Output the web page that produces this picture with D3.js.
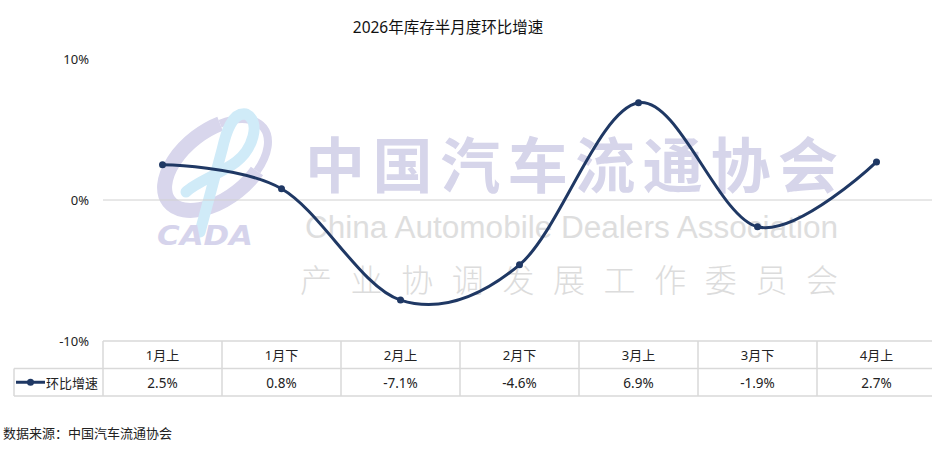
<!DOCTYPE html>
<html><head><meta charset="utf-8">
<script src="https://cdn.jsdelivr.net/npm/d3@7"></script>
<style>
body{margin:0;background:#fff;}
svg text{font-family:"Noto Sans","Noto Sans CJK SC",sans-serif;}
</style></head>
<body><svg id="c" width="932" height="449"></svg>
<script>
const title = "2026年库存半月度环比增速";
const categories = ["1月上","1月下","2月上","2月下","3月上","3月下","4月上"];
const seriesName = "环比增速";
const values = [2.5, 0.8, -7.1, -4.6, 6.9, -1.9, 2.7];
const yTicks = [10, 0, -10];
const source = "数据来源：中国汽车流通协会";

const svg = d3.select("#c");
const W = 932, H = 449;
const pLeft = 103, pRight = 936, pTop = 59, pBottom = 341;
const rowH = 27.5;

const x = d3.scaleBand().domain(categories).range([pLeft, pRight]);
const y = d3.scaleLinear().domain([-10, 10]).range([pBottom, pTop]);

// watermark (logo + association name)
const wm = svg.append("g").attr("class","watermark");
const lg = wm.append("g").attr("transform","translate(207,172) rotate(-38)");
lg.append("path").attr("d","M40,-30 A60,34 0 1 0 40,30")
  .attr("fill","none").attr("stroke","#d8d6ec").attr("stroke-width",15);
lg.append("path").attr("d","M40,30 A60,34 0 0 0 40,-30")
  .attr("fill","none").attr("stroke","#d8d6ec").attr("stroke-width",8);
wm.append("path")
  .attr("d","M246,114 C262,122 252,150 236,162 C220,174 196,182 186,192 M246,114 C232,112 226,132 222,150 L200,232")
  .attr("fill","none").attr("stroke","#d0ebf8").attr("stroke-width",11).attr("stroke-linecap","round");
wm.append("text").attr("x",157).attr("y",245).text("CADA")
  .attr("font-size",27).attr("font-weight","bold").attr("font-style","italic")
  .style("font-family","DejaVu Sans").attr("fill","#d6d4ec")
  .attr("textLength",96).attr("lengthAdjust","spacingAndGlyphs");
wm.append("text").attr("x",305).attr("y",188).text("中国汽车流通协会")
  .attr("font-size",60).attr("font-weight",700).style("font-family","Noto Sans CJK SC").attr("fill","#d6d5ea")
  .attr("textLength",533).attr("lengthAdjust","spacing");
wm.append("text").attr("x",305).attr("y",238).text("China Automobile Dealers Association")
  .attr("font-size",31).style("font-family","Liberation Sans Narrow, Liberation Sans").attr("fill","#dedede")
  .attr("textLength",533).attr("lengthAdjust","spacingAndGlyphs");
wm.append("text").attr("x",300).attr("y",292).text("产业协调发展工作委员会")
  .attr("font-size",32).attr("font-weight",300).style("font-family","Noto Sans CJK SC").attr("fill","#dcdcdc")
  .attr("textLength",538).attr("lengthAdjust","spacing");

// title
svg.append("text").attr("x",448).attr("y",33).attr("text-anchor","middle")
  .attr("font-size",15.5).attr("fill","#111").text(title);

// zero gridline
svg.append("line").attr("x1",pLeft).attr("x2",W).attr("y1",y(0)).attr("y2",y(0))
  .attr("stroke","#d0d0d0").attr("stroke-width",1);

// y labels
svg.selectAll(".yt").data(yTicks).join("text")
  .attr("x",89).attr("y",d=>y(d)+5).attr("text-anchor","end")
  .attr("font-size",13).attr("fill","#222").text(d=>d+"%");

// table
const tg = svg.append("g").attr("stroke","#d9d9d9").attr("stroke-width",1.5).attr("fill","none");
tg.append("line").attr("x1",pLeft).attr("x2",W).attr("y1",pBottom).attr("y2",pBottom);
tg.append("line").attr("x1",14).attr("x2",W).attr("y1",pBottom+rowH).attr("y2",pBottom+rowH);
tg.append("line").attr("x1",14).attr("x2",W).attr("y1",pBottom+2*rowH).attr("y2",pBottom+2*rowH);
tg.append("line").attr("x1",14).attr("x2",14).attr("y1",pBottom+rowH).attr("y2",pBottom+2*rowH);
tg.selectAll(".vl").data(categories).join("line")
  .attr("x1",d=>x(d)).attr("x2",d=>x(d)).attr("y1",pBottom).attr("y2",pBottom+2*rowH);

svg.selectAll(".cat").data(categories).join("text")
  .attr("x",d=>x(d)+x.bandwidth()/2).attr("y",pBottom+19).attr("text-anchor","middle")
  .attr("font-size",13).attr("fill","#222").text(d=>d);
svg.selectAll(".val").data(values).join("text")
  .attr("x",(d,i)=>x(categories[i])+x.bandwidth()/2).attr("y",pBottom+rowH+19).attr("text-anchor","middle")
  .attr("font-size",13.5).attr("fill","#222").text(d=>d.toFixed(1)+"%");

// legend in table
const color = "#1f3864";
svg.append("line").attr("x1",16).attr("x2",45).attr("y1",pBottom+rowH*1.5).attr("y2",pBottom+rowH*1.5)
  .attr("stroke",color).attr("stroke-width",3);
svg.append("circle").attr("cx",30.5).attr("cy",pBottom+rowH*1.5).attr("r",3.5).attr("fill",color);
svg.append("text").attr("x",46).attr("y",pBottom+rowH+19).attr("font-size",13).attr("fill","#222").text(seriesName);

// line
const line = d3.line().x((d,i)=>x(categories[i])+x.bandwidth()/2).y(d=>y(d)).curve(d3.curveCardinal.tension(0));
svg.append("path").datum(values).attr("d",line).attr("fill","none")
  .attr("stroke",color).attr("stroke-width",3).attr("stroke-linejoin","round");
svg.selectAll(".pt").data(values).join("circle")
  .attr("cx",(d,i)=>x(categories[i])+x.bandwidth()/2).attr("cy",d=>y(d)).attr("r",3.5).attr("fill",color);

// source
svg.append("text").attr("x",3).attr("y",438).attr("font-size",13).attr("fill","#222").text(source);
</script></body></html>
